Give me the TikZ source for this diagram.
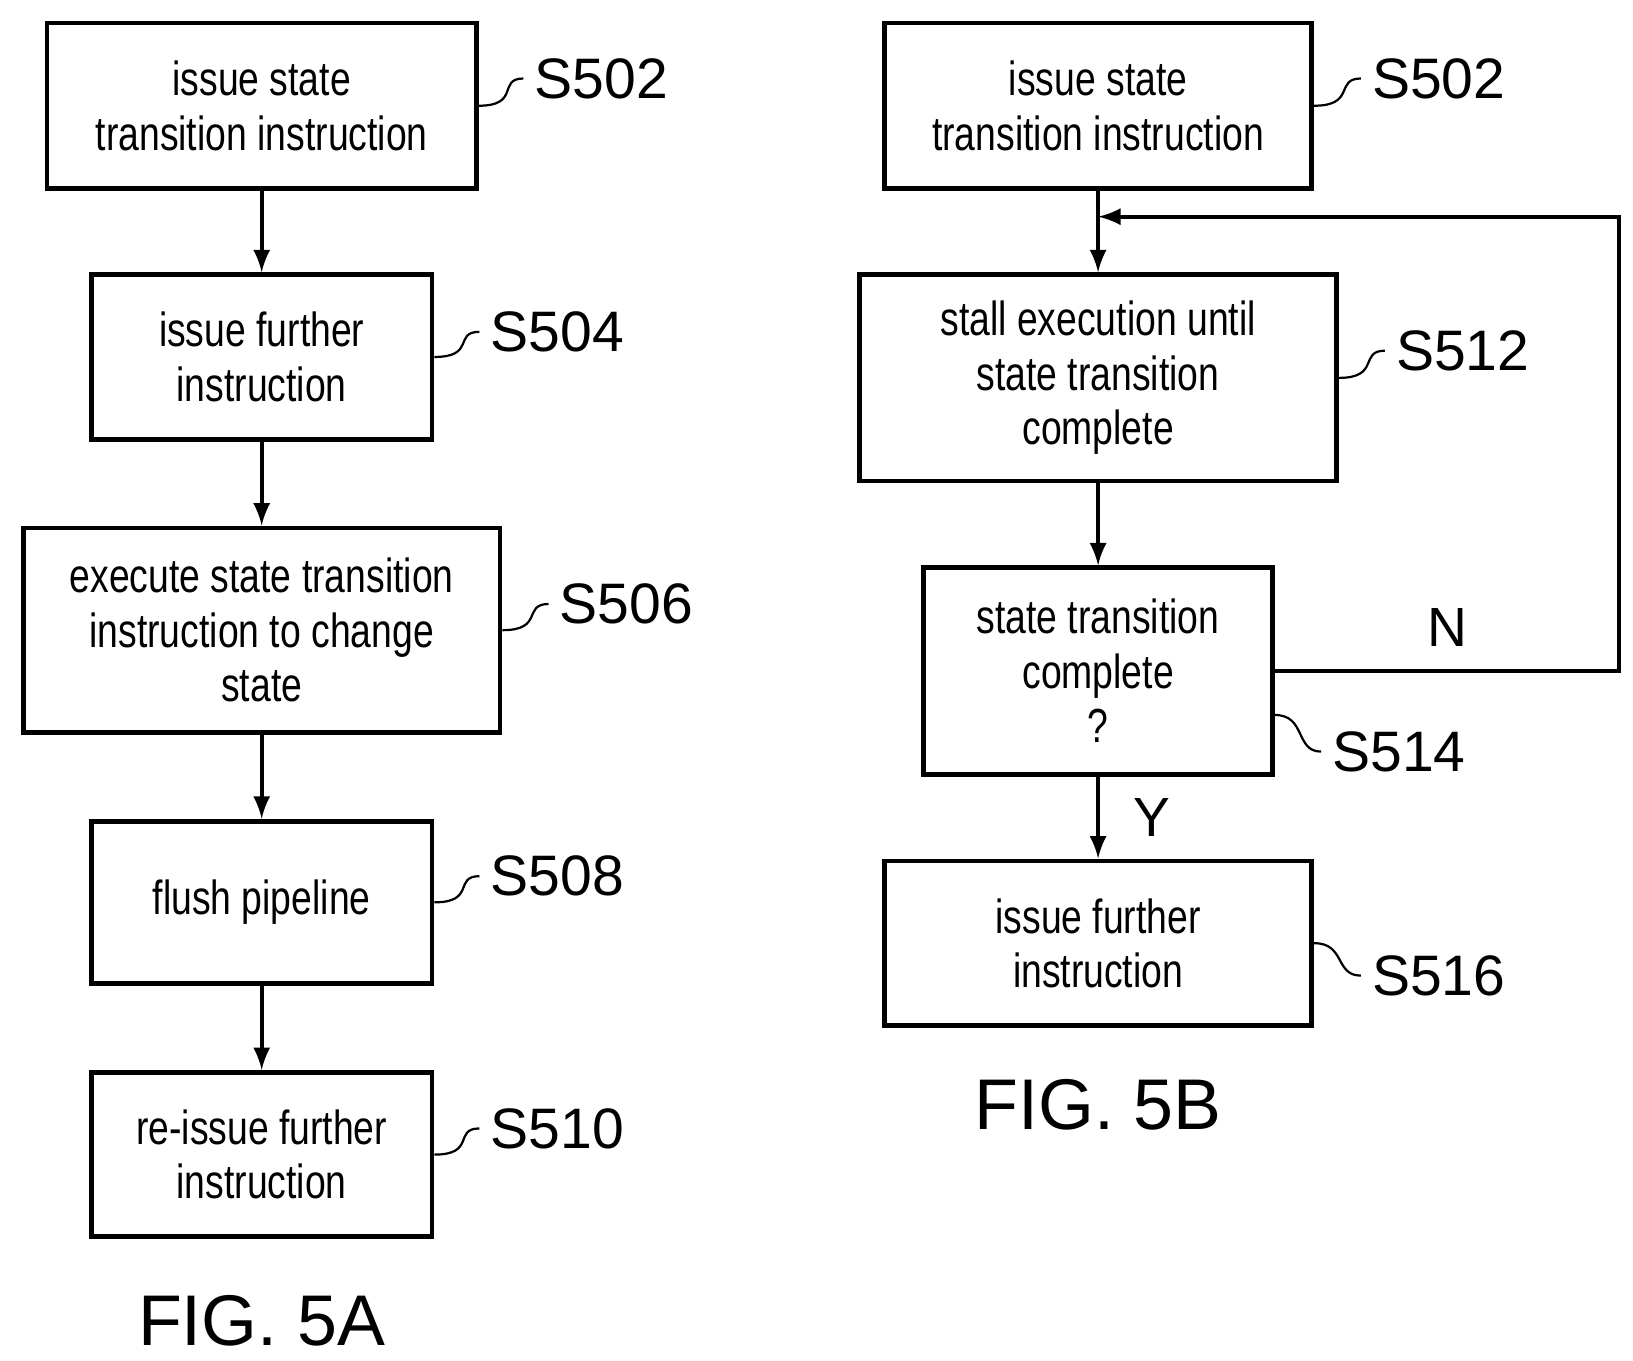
\documentclass[tikz,border=0pt]{standalone}
\usepackage{fontspec}
\setmainfont{Liberation Sans}[FakeStretch=0.78]
\newfontfamily\labelfont{Liberation Sans}
\begin{document}
\begin{tikzpicture}[
  x=0.01cm, y=-0.01cm,
  box/.style={draw=black, line width=1.3pt, align=center, inner sep=0pt,
    font=\fontsize{13}{14.8}\selectfont},
  slabel/.style={anchor=west, inner sep=0pt, font=\labelfont\fontsize{15.5}{18}\selectfont},
  figlabel/.style={inner sep=0pt, font=\labelfont\fontsize{19.5}{22}\selectfont},
  arw/.style={-latex, line width=1.1pt},
  lead/.style={line width=0.6pt}
  ]
\useasboundingbox (0,0) rectangle (1560,1300);

% FIG. 5A
\node [box, minimum width=4.1cm, minimum height=1.58cm] (a502) at (250,101) {issue state\\transition instruction};
\node [box, minimum width=3.25cm, minimum height=1.57cm] (a504) at (250,341) {issue further\\instruction};
\node [box, minimum width=4.55cm, minimum height=1.95cm] (a506) at (250,602) {execute state transition\\instruction to change\\state};
\node [box, minimum width=3.25cm, minimum height=1.55cm] (a508) at (250,862) {flush pipeline};
\node [box, minimum width=3.25cm, minimum height=1.57cm] (a510) at (250,1103) {re-issue further\\instruction};

\node [slabel] (l502a) at (510,75) {S502};
\node [slabel] (l504a) at (468,317) {S504};
\node [slabel] (l506a) at (534,577) {S506};
\node [slabel] (l508a) at (468,837) {S508};
\node [slabel] (l510a) at (468,1078) {S510};
\node [figlabel] (fig5a) at (250,1262) {FIG. 5A};

\draw [arw] (a502) -- (a504);
\draw [arw] (a504) -- (a506);
\draw [arw] (a506) -- (a508);
\draw [arw] (a508) -- (a510);

\draw [lead] (a502.east) .. controls +(40,0) and +(-25,0) .. ([xshift=-0.1cm]l502a.west);
\draw [lead] (a504.east) .. controls +(40,0) and +(-25,0) .. ([xshift=-0.1cm]l504a.west);
\draw [lead] (a506.east) .. controls +(40,0) and +(-25,0) .. ([xshift=-0.1cm]l506a.west);
\draw [lead] (a508.east) .. controls +(40,0) and +(-25,0) .. ([xshift=-0.1cm]l508a.west);
\draw [lead] (a510.east) .. controls +(40,0) and +(-25,0) .. ([xshift=-0.1cm]l510a.west);

% FIG. 5B
\node [box, minimum width=4.08cm, minimum height=1.58cm] (b502) at (1049,101) {issue state\\transition instruction};
\node [box, minimum width=4.55cm, minimum height=1.97cm] (b512) at (1049,361) {stall execution until\\state transition\\complete};
\node [box, minimum width=3.33cm, minimum height=1.97cm] (b514) at (1049,641) {state transition\\complete\\?};
\node [box, minimum width=4.08cm, minimum height=1.57cm] (b516) at (1049,901) {issue further\\instruction};

\node [slabel] (l502b) at (1310,75) {S502};
\node [slabel] (l512b) at (1333,335) {S512};
\node [slabel] (l514b) at (1272,718) {S514};
\node [slabel] (l516b) at (1310,932) {S516};
\node [figlabel] (fig5b) at (1049,1055) {FIG. 5B};

\coordinate (loopr) at (1547,641);
\coordinate (loopt) at (1547,207);
\coordinate (join) at (1049,207);

\draw [arw] (b502) -- (b512);
\draw [arw] (b512) -- (b514);
\draw [arw] (b514) -- node [right, xshift=0.2cm, font=\labelfont\fontsize{15}{18}\selectfont] {Y} (b516);
\draw [arw] (b514.east) -- node [above, yshift=0.1cm, font=\labelfont\fontsize{15}{18}\selectfont] {N} (loopr) -- (loopt) -- (join);

\draw [lead] (b502.east) .. controls +(40,0) and +(-25,0) .. ([xshift=-0.1cm]l502b.west);
\draw [lead] (b512.east) .. controls +(40,0) and +(-25,0) .. ([xshift=-0.1cm]l512b.west);
\draw [lead] ([yshift=-0.42cm]b514.east) .. controls +(30,0) and +(-25,0) .. ([xshift=-0.1cm]l514b.west);
\draw [lead] (b516.east) .. controls +(30,0) and +(-25,0) .. ([xshift=-0.1cm]l516b.west);
\end{tikzpicture}
\end{document}
